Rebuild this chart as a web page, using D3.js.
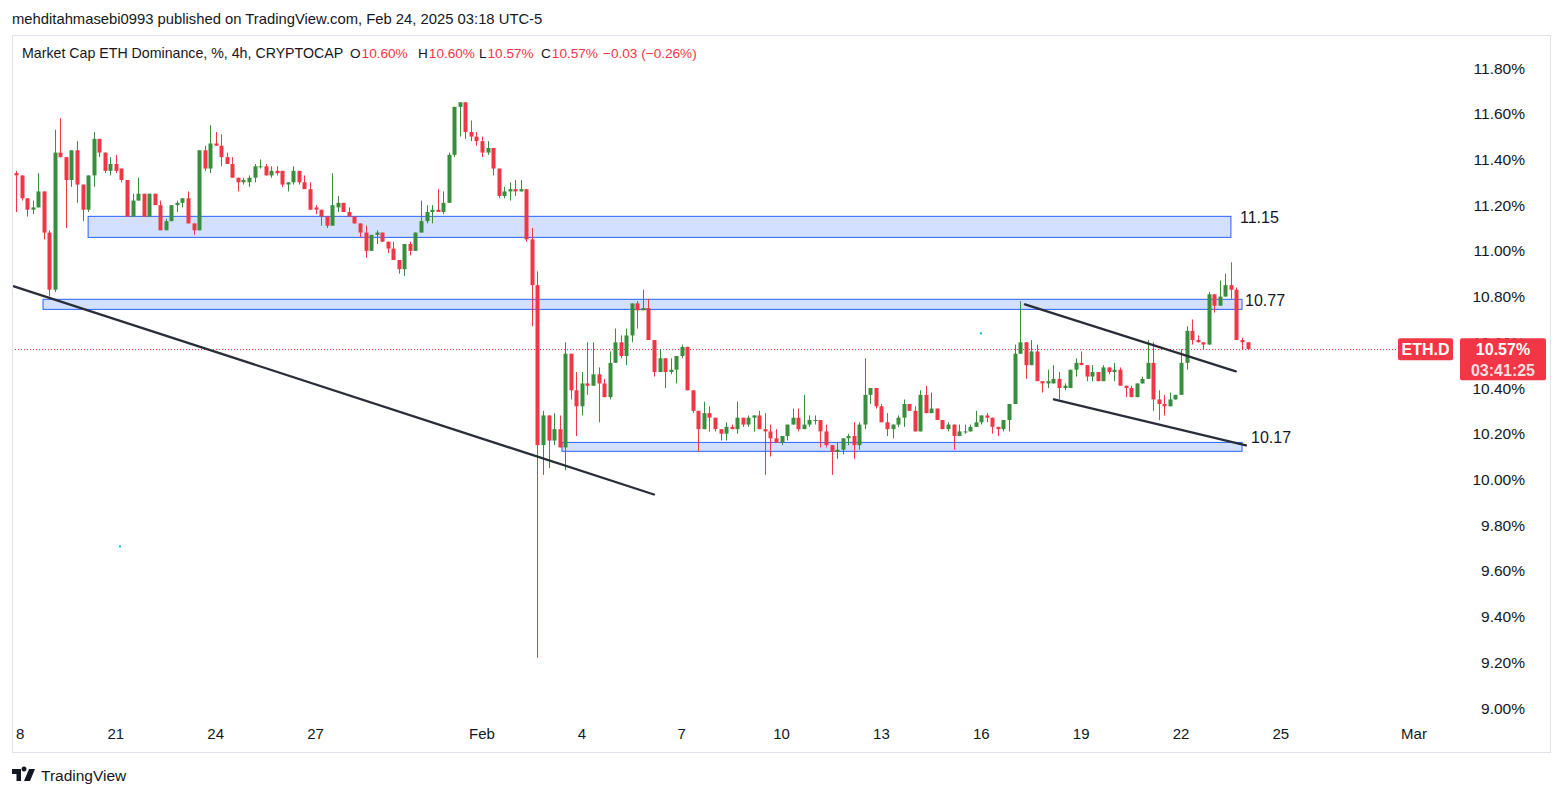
<!DOCTYPE html>
<html><head><meta charset="utf-8">
<script src="https://cdn.jsdelivr.net/npm/d3@7"></script>
<style>
html,body{margin:0;padding:0;background:#fff;}
svg{display:block;font-family:"Liberation Sans",Arial,sans-serif;}
</style></head>
<body><svg id="c" width="1563" height="798"></svg>
<script>
// ---------- DATA ----------
const startTime = Date.UTC(2025,0,18,0,0);   // first 4h candle
const candleHours = 4;
const opens = [11.34,11.33,11.23,11.18,11.19,11.26,11.08,10.83,11.43,11.41,11.31,11.44,11.29,11.18,11.33,11.49,11.43,11.35,11.38,11.36,
11.31,11.15,11.22,11.25,11.15,11.25,11.20,11.09,11.13,11.20,11.21,11.23,11.12,11.09,11.44,11.36,11.47,11.46,11.41,11.38,
11.32,11.30,11.30,11.32,11.37,11.37,11.33,11.35,11.35,11.29,11.30,11.35,11.30,11.27,11.19,11.18,11.15,11.11,11.19,11.21,
11.17,11.15,11.12,11.08,11.00,11.07,11.08,11.04,11.01,10.96,10.92,11.03,11.00,11.08,11.13,11.17,11.18,11.17,11.21,11.42,
11.63,11.65,11.52,11.50,11.48,11.43,11.45,11.36,11.24,11.26,11.27,11.26,11.27,11.05,10.85,10.15,10.28,10.17,10.22,10.14,
10.55,10.39,10.32,10.42,10.41,10.46,10.42,10.36,10.51,10.60,10.54,10.63,10.77,10.74,10.75,10.61,10.47,10.53,10.47,10.48,
10.54,10.58,10.39,10.30,10.22,10.29,10.27,10.22,10.20,10.23,10.22,10.27,10.24,10.27,10.28,10.22,10.21,10.18,10.16,10.19,
10.24,10.27,10.22,10.24,10.26,10.26,10.21,10.15,10.12,10.13,10.18,10.19,10.15,10.24,10.37,10.40,10.32,10.25,10.22,10.24,
10.27,10.33,10.30,10.21,10.37,10.29,10.31,10.26,10.22,10.24,10.19,10.21,10.21,10.23,10.25,10.28,10.27,10.23,10.22,10.26,
10.33,10.55,10.60,10.50,10.56,10.43,10.42,10.42,10.44,10.40,10.40,10.48,10.51,10.50,10.45,10.47,10.43,10.49,10.47,10.48,
10.41,10.40,10.36,10.42,10.44,10.51,10.35,10.33,10.32,10.35,10.37,10.51,10.65,10.61,10.60,10.59,10.81,10.76,10.80,10.85,
10.83,10.61,10.60];
const highs = [11.35,11.33,11.23,11.22,11.34,11.26,11.09,11.53,11.58,11.41,11.44,11.48,11.29,11.33,11.52,11.49,11.43,11.41,11.42,11.36,
11.31,11.25,11.32,11.25,11.25,11.25,11.22,11.14,11.20,11.22,11.23,11.26,11.12,11.44,11.46,11.55,11.52,11.51,11.43,11.41,
11.32,11.32,11.33,11.38,11.40,11.38,11.37,11.37,11.35,11.30,11.37,11.35,11.33,11.30,11.20,11.18,11.15,11.34,11.24,11.21,
11.19,11.15,11.12,11.11,11.07,11.09,11.08,11.04,11.04,10.96,11.03,11.04,11.08,11.22,11.20,11.20,11.27,11.26,11.43,11.63,
11.65,11.65,11.57,11.52,11.50,11.48,11.45,11.36,11.28,11.30,11.31,11.31,11.27,11.10,10.91,10.30,10.28,10.29,10.28,10.60,
10.55,10.47,10.47,10.60,10.60,10.49,10.44,10.56,10.66,10.63,10.66,10.77,10.78,10.83,10.79,10.61,10.57,10.53,10.53,10.54,
10.59,10.58,10.39,10.30,10.34,10.32,10.27,10.22,10.25,10.24,10.34,10.27,10.28,10.28,10.30,10.29,10.24,10.22,10.19,10.24,
10.31,10.31,10.37,10.28,10.28,10.26,10.24,10.15,10.16,10.18,10.20,10.25,10.25,10.53,10.40,10.40,10.33,10.29,10.24,10.28,
10.35,10.33,10.32,10.39,10.41,10.38,10.31,10.26,10.25,10.24,10.24,10.24,10.24,10.30,10.28,10.29,10.27,10.23,10.26,10.33,
10.59,10.78,10.60,10.61,10.59,10.43,10.48,10.50,10.47,10.42,10.48,10.53,10.56,10.50,10.50,10.47,10.50,10.49,10.51,10.49,
10.41,10.41,10.42,10.45,10.61,10.60,10.39,10.37,10.38,10.37,10.57,10.67,10.70,10.63,10.60,10.82,10.81,10.87,10.90,10.95,
10.84,10.62,10.60];
const lows = [11.17,11.22,11.15,11.16,11.19,11.05,10.80,10.82,11.41,11.10,11.28,11.21,11.13,11.17,11.28,11.41,11.34,11.33,11.34,11.30,
11.15,11.15,11.22,11.15,11.15,11.20,11.09,11.09,11.13,11.17,11.19,11.12,11.07,11.09,11.35,11.34,11.46,11.37,11.38,11.32,
11.26,11.29,11.28,11.30,11.36,11.33,11.32,11.33,11.28,11.26,11.29,11.29,11.27,11.18,11.16,11.11,11.10,11.11,11.17,11.17,
11.15,11.12,11.06,10.97,11.00,11.03,11.04,10.99,10.96,10.90,10.89,10.98,11.00,11.08,11.12,11.12,11.17,11.16,11.21,11.41,
11.50,11.49,11.48,11.46,11.41,11.42,11.33,11.23,11.23,11.22,11.24,11.26,11.04,10.67,9.22,10.02,10.05,10.15,10.14,10.04,
10.35,10.19,10.28,10.37,10.41,10.25,10.36,10.35,10.51,10.53,10.50,10.60,10.66,10.74,10.61,10.45,10.47,10.40,10.46,10.42,
10.53,10.39,10.29,10.12,10.22,10.21,10.21,10.17,10.17,10.22,10.20,10.23,10.23,10.21,10.22,10.02,10.10,10.16,10.15,10.17,
10.24,10.21,10.22,10.23,10.24,10.14,10.14,10.02,10.09,10.11,10.15,10.09,10.13,10.22,10.33,10.31,10.25,10.19,10.18,10.23,
10.23,10.30,10.21,10.21,10.29,10.29,10.26,10.22,10.21,10.13,10.19,10.20,10.21,10.23,10.24,10.25,10.20,10.19,10.21,10.21,
10.33,10.55,10.44,10.50,10.43,10.38,10.40,10.42,10.35,10.39,10.40,10.45,10.50,10.43,10.43,10.43,10.43,10.46,10.43,10.41,
10.36,10.36,10.36,10.42,10.44,10.30,10.26,10.28,10.32,10.35,10.37,10.48,10.59,10.60,10.57,10.59,10.73,10.76,10.80,10.79,
10.61,10.57,10.57];
const closes = [11.33,11.23,11.18,11.19,11.26,11.08,10.83,11.43,11.41,11.31,11.44,11.29,11.18,11.33,11.49,11.43,11.35,11.38,11.35,11.31,
11.15,11.22,11.25,11.15,11.25,11.20,11.09,11.13,11.20,11.21,11.23,11.12,11.09,11.44,11.36,11.47,11.46,11.41,11.38,11.32,
11.30,11.31,11.32,11.37,11.37,11.33,11.35,11.34,11.29,11.30,11.35,11.30,11.27,11.18,11.18,11.15,11.11,11.20,11.21,11.17,
11.15,11.12,11.08,11.00,11.07,11.08,11.04,11.01,10.96,10.92,11.03,11.00,11.08,11.13,11.17,11.18,11.17,11.21,11.42,11.63,
11.65,11.52,11.50,11.48,11.43,11.45,11.36,11.24,11.26,11.27,11.26,11.27,11.05,10.85,10.15,10.28,10.17,10.22,10.14,10.55,
10.39,10.32,10.42,10.41,10.46,10.42,10.36,10.51,10.60,10.54,10.63,10.77,10.74,10.75,10.61,10.47,10.53,10.47,10.48,10.54,
10.58,10.39,10.30,10.22,10.29,10.27,10.22,10.20,10.23,10.22,10.27,10.24,10.27,10.28,10.22,10.21,10.18,10.16,10.19,10.24,
10.27,10.22,10.24,10.26,10.26,10.21,10.15,10.12,10.13,10.18,10.19,10.15,10.24,10.37,10.40,10.32,10.25,10.22,10.24,10.27,
10.33,10.30,10.21,10.37,10.29,10.31,10.26,10.22,10.24,10.19,10.21,10.21,10.23,10.25,10.28,10.27,10.23,10.22,10.26,10.33,
10.55,10.60,10.50,10.56,10.43,10.42,10.43,10.44,10.40,10.41,10.48,10.51,10.50,10.45,10.47,10.43,10.49,10.47,10.48,10.41,
10.40,10.36,10.42,10.44,10.51,10.35,10.33,10.32,10.35,10.37,10.51,10.65,10.61,10.60,10.59,10.81,10.76,10.80,10.85,10.83,
10.61,10.60,10.57];

const priceTicks = [9.0,9.2,9.4,9.6,9.8,10.0,10.2,10.4,10.6,10.8,11.0,11.2,11.4,11.6,11.8];
const dayTicks = ["2025-01-18","2025-01-21","2025-01-24","2025-01-27","2025-02-01","2025-02-04","2025-02-07","2025-02-10",
  "2025-02-13","2025-02-16","2025-02-19","2025-02-22","2025-02-25","2025-03-01"];
const dayTickLabels = ["18","21","24","27","Feb","4","7","10","13","16","19","22","25","Mar"];

// zones: start, end, top, bottom, label
const zoneStarts = ["2025-01-20T04:00Z","2025-01-18T19:30Z","2025-02-03T09:40Z"];
const zoneEnds   = ["2025-02-23T12:00Z","2025-02-23T20:00Z","2025-02-23T20:00Z"];
const zoneTops   = [11.151, 10.788, 10.162];
const zoneBottoms= [11.059, 10.744, 10.123];
const zoneLabels = ["11.15","10.77","10.17"];

// trend lines
const lineStarts = ["2025-01-17T22:30Z","2025-02-17T07:30Z","2025-02-18T04:20Z"];
const lineStartVals = [10.845, 10.766, 10.350];
const lineEnds = ["2025-02-06T04:00Z","2025-02-23T15:30Z","2025-02-23T22:50Z"];
const lineEndVals = [9.934, 10.473, 10.149];

const dotTimes = ["2025-02-15T23:45Z","2025-01-21T03:00Z"];
const dotVals = [10.639, 9.707];

const lastPrice = 10.57;
const legendKeys = ["O","H","L","C"];
const legendVals = ["10.60%","10.60%","10.57%","10.57%"];
const legendChg = "−0.03 (−0.26%)";

// ---------- DRAW ----------
const svg = d3.select("#c");
const paneL = 12, paneR = 1460, paneT = 35, paneB = 752;
const GREEN = "#388e3c", RED = "#f23645", INK = "#131722";

const x = d3.scaleUtc().domain([Date.UTC(2025,0,18), Date.UTC(2025,2,1)]).range([16, 1414]);
const y = d3.scaleLinear().domain([9.0, 11.8]).range([708, 68]);

const times = opens.map((d,i)=> new Date(startTime + i*candleHours*3600e3));

// header
svg.append("text").attr("x",12).attr("y",24).attr("font-size",14.8).attr("fill",INK)
  .text("mehditahmasebi0993 published on TradingView.com, Feb 24, 2025 03:18 UTC-5");

// pane border
svg.append("rect").attr("x",paneL+0.5).attr("y",paneT+0.5).attr("width",1550-paneL).attr("height",paneB-paneT)
  .attr("fill","none").attr("stroke","#e0e3eb");

const defs = svg.append("defs");
defs.append("clipPath").attr("id","pane").append("rect")
  .attr("x",paneL+1).attr("y",paneT+1).attr("width",paneR-paneL-1).attr("height",paneB-paneT-2);
defs.append("clipPath").attr("id","xax").append("rect")
  .attr("x",16).attr("y",paneT).attr("width",paneR-16).attr("height",paneB-paneT);

const g = svg.append("g").attr("clip-path","url(#pane)");

// price line (dotted)
const pyl = Math.round(y(lastPrice))+0.5;
g.append("line").attr("x1",paneL).attr("x2",1398).attr("y1",pyl).attr("y2",pyl)
  .attr("stroke",RED).attr("stroke-width",1).attr("stroke-dasharray","1,2");

// zones
zoneStarts.forEach((s,i)=>{
  const x0 = x(new Date(s)), x1 = x(new Date(zoneEnds[i]));
  const y0 = y(zoneTops[i]), y1 = y(zoneBottoms[i]);
  g.append("rect").attr("x",x0).attr("y",y0).attr("width",x1-x0).attr("height",y1-y0)
    .attr("fill","rgba(41,98,255,0.2)").attr("stroke","#2962ff").attr("stroke-width",1);
});

// candles
const bw = 4;
const cg = g.append("g");
times.forEach((t,i)=>{
  const o=opens[i], c=closes[i], h=highs[i], l=lows[i];
  const col = c>=o ? GREEN : RED;
  const cx = Math.round(x(t));
  cg.append("line").attr("x1",cx+0.5).attr("x2",cx+0.5).attr("y1",y(h)).attr("y2",y(l)).attr("stroke",col).attr("stroke-width",1);
  const yt = y(Math.max(o,c)), yb = y(Math.min(o,c));
  cg.append("rect").attr("x",cx-1.5).attr("y",yt).attr("width",bw).attr("height",Math.max(1,yb-yt)).attr("fill",col);
});

// trend lines
lineStarts.forEach((s,i)=>{
  g.append("line").attr("x1",x(new Date(s))).attr("y1",y(lineStartVals[i]))
    .attr("x2",x(new Date(lineEnds[i]))).attr("y2",y(lineEndVals[i]))
    .attr("stroke","#2a2e39").attr("stroke-width",2.3).attr("stroke-linecap","round");
});

// zone labels
zoneLabels.forEach((lab,i)=>{
  const off = [9,3,9][i];
  g.append("text").attr("x",x(new Date(zoneEnds[i]))+off).attr("y",y(zoneTops[i])+[7,7,1][i])
    .attr("font-size",16).attr("fill",INK).text(lab);
});

// cyan dots
dotTimes.forEach((t,i)=>{
  g.append("rect").attr("x",x(new Date(t))-1).attr("y",y(dotVals[i])-1).attr("width",2).attr("height",2).attr("fill","#00bcd4");
});

// right axis
const ya = svg.append("g");
priceTicks.forEach(p=>{
  ya.append("text").attr("x",1525).attr("y",y(p)+5.5).attr("text-anchor","end").attr("font-size",15.5)
    .attr("fill",INK).text(p.toFixed(2)+"%");
});

// x axis
const xa = svg.append("g").attr("clip-path","url(#xax)");
dayTicks.forEach((d,i)=>{
  xa.append("text").attr("x",x(new Date(d+"T00:00Z"))).attr("y",739).attr("text-anchor","middle")
    .attr("font-size",15).attr("fill",INK).text(dayTickLabels[i]);
});

// legend
svg.append("text").attr("x",22).attr("y",58).attr("font-size",14.2).attr("fill",INK)
  .text("Market Cap ETH Dominance, %, 4h, CRYPTOCAP");
const legX = [350,418,479,541];
legendKeys.forEach((k,i)=>{
  const t = svg.append("text").attr("x",legX[i]).attr("y",58).attr("font-size",13.6);
  t.append("tspan").attr("fill",INK).text(k);
  t.append("tspan").attr("fill",RED).attr("dx",1).text(legendVals[i]);
});
svg.append("text").attr("x",603).attr("y",58).attr("font-size",13.6).attr("fill",RED).text(legendChg);

// symbol label & price box
const py = y(lastPrice);
svg.append("rect").attr("x",1398).attr("y",py-11).attr("width",55).attr("height",22).attr("rx",2).attr("fill",RED);
svg.append("text").attr("x",1425.5).attr("y",py+6).attr("text-anchor","middle").attr("font-size",16).attr("font-weight","bold")
  .attr("fill","#fff").text("ETH.D");
svg.append("rect").attr("x",1460).attr("y",py-11).attr("width",86).attr("height",42).attr("rx",2).attr("fill",RED);
svg.append("text").attr("x",1503).attr("y",py+6).attr("text-anchor","middle").attr("font-size",16).attr("font-weight","bold")
  .attr("fill","#fff").text(lastPrice.toFixed(2)+"%");
svg.append("text").attr("x",1503).attr("y",py+26.5).attr("text-anchor","middle").attr("font-size",16).attr("font-weight","bold")
  .attr("fill","#fff").attr("fill-opacity",0.85).text("03:41:25");

// footer logo
const lgx = 12, lgy = 769;
svg.append("path").attr("d",`M${lgx} ${lgy}h9v12h-4.5v-7h-4.5z M${lgx+12} ${lgy+2.5}a2.5 2.5 0 1 1 0.01 0 M${lgx+17} ${lgy}h6l-5 12h-6z`)
  .attr("fill",INK);
svg.append("text").attr("x",lgx+29).attr("y",lgy+12).attr("font-size",15.5).attr("fill",INK).text("TradingView");
</script></body></html>
